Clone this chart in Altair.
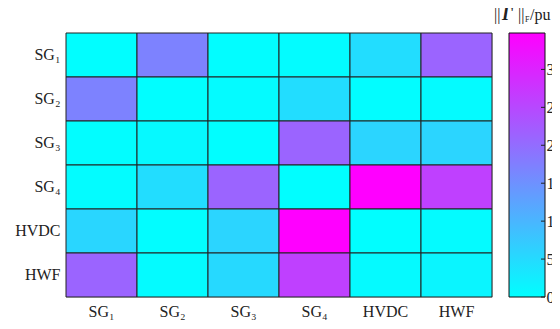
import altair as alt
import pandas as pd

rows = ["SG₁", "SG₂", "SG₃", "SG₄", "HVDC", "HWF"]
cols = ["SG₁", "SG₂", "SG₃", "SG₄", "HVDC", "HWF"]
values = [
    [0.2, 17.0, 0.3, 0.4, 4.7, 21.2],
    [17.0, 0.2, 0.5, 4.7, 0.3, 0.6],
    [0.3, 0.8, 0.2, 21.2, 5.8, 5.8],
    [0.4, 4.7, 21.2, 0.2, 34.8, 26.0],
    [5.6, 0.3, 5.8, 34.8, 0.2, 0.6],
    [21.2, 0.6, 5.2, 26.0, 0.7, 1.4],
]
cbar_ticks = [0, 5, 10, 15, 20, 25, 30]
cmax = 34.8

records = []
for i, r in enumerate(rows):
    for j, c in enumerate(cols):
        records.append({"row": r, "col": c, "v": values[i][j]})
df = pd.DataFrame(records)

FONT = "Liberation Serif"
W, H = 426, 264

heat = alt.Chart(df).mark_rect(stroke="#222222", strokeWidth=1).encode(
    x=alt.X("col:N", sort=cols, title=None,
            axis=alt.Axis(orient="bottom", ticks=False, domain=False, labelAngle=0,
                          labelFont=FONT, labelFontSize=16, labelColor="#222222",
                          labelPadding=6)),
    y=alt.Y("row:N", sort=rows, title=None,
            axis=alt.Axis(orient="left", ticks=False, domain=False,
                          labelFont=FONT, labelFontSize=16, labelColor="#222222",
                          labelPadding=6)),
    color=alt.Color("v:Q", legend=None,
                    scale=alt.Scale(domain=[0, cmax], range=["#00ffff", "#ff00ff"],
                                    interpolate="rgb")),
)

cb_df = pd.DataFrame({"lo": [0.0], "hi": [cmax]})
grad = alt.Gradient(gradient="linear",
                    stops=[alt.GradientStop(color="#00ffff", offset=0),
                           alt.GradientStop(color="#ff00ff", offset=1)],
                    x1=0, x2=0, y1=1, y2=0)
cbar = alt.Chart(cb_df).mark_rect(fill=grad, stroke="#111111", strokeWidth=1).encode(
    x=alt.value(443), x2=alt.value(479),
    y=alt.Y("lo:Q", scale=alt.Scale(domain=[0, cmax], nice=False, zero=True),
            title=None,
            axis=alt.Axis(orient="right", offset=53, ticks=False, domain=False,
                          grid=False, values=cbar_ticks, labelFont=FONT,
                          labelFontSize=16, labelColor="#222222", labelPadding=1)),
    y2="hi:Q",
)

tk_df = pd.DataFrame({"t": cbar_ticks})
ticks = alt.Chart(tk_df).mark_rule(color="#222222", strokeWidth=1).encode(
    x=alt.value(475), x2=alt.value(479),
    y=alt.Y("t:Q", scale=alt.Scale(domain=[0, cmax], nice=False), axis=None),
)

def txt(s, x, y, size=16, weight="normal", style="normal"):
    return alt.Chart(alt.Data(values=[{}])).mark_text(
        text=s, font=FONT, fontSize=size, fontWeight=weight, fontStyle=style,
        align="left", baseline="alphabetic", color="#222222"
    ).encode(x=alt.value(x), y=alt.value(y))

title_parts = [
    txt("||", 428, -13),
    txt("Γ", 436, -13, size=18, weight="bold", style="italic"),
    txt("||", 452, -13),
    txt("F", 459, -11, size=8),
    txt("/pu", 464, -13, size=16),
]

chart = alt.layer(heat, cbar, ticks, *title_parts).resolve_scale(
    y="independent", x="independent"
).properties(
    width=W, height=H,
    padding={"left": 58, "top": 25, "right": 60, "bottom": 24},
    autosize=alt.AutoSizeParams(type="none"),
).configure_view(stroke=None).configure(background="white")

chart.save("out.html", embed_options={"renderer": "svg", "actions": False})
